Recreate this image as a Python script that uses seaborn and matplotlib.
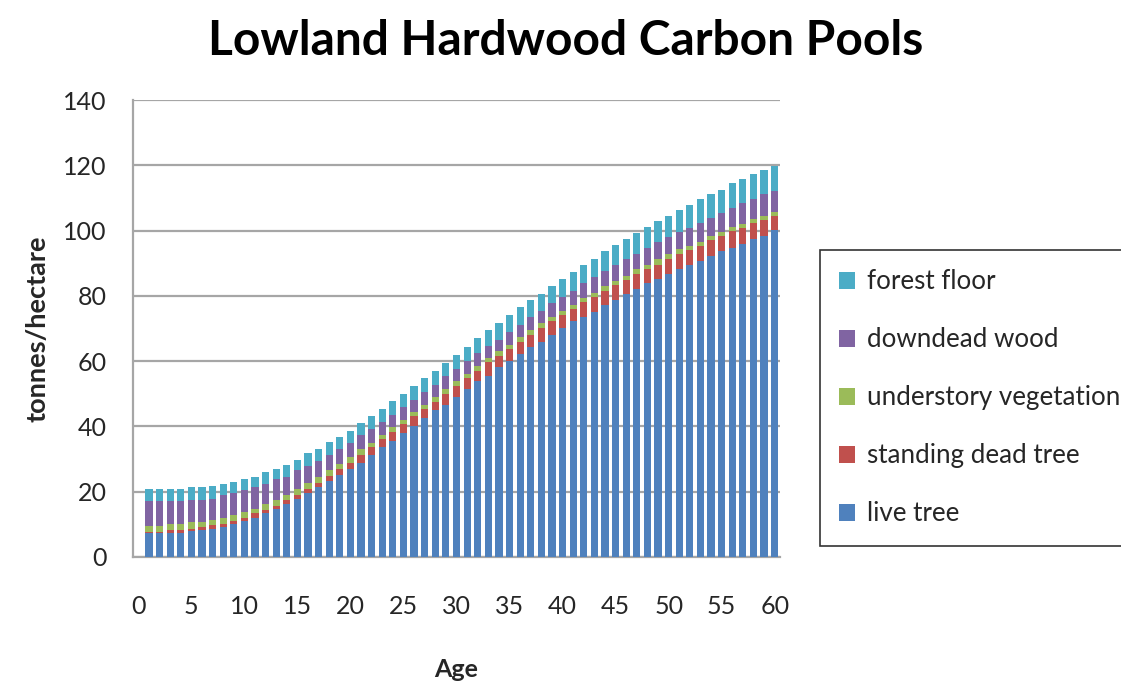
import numpy as np
import pandas as pd
import matplotlib
matplotlib.use("Agg")
import matplotlib.pyplot as plt
from matplotlib.patches import Patch
import seaborn as sns

# Stand age (years); age 0 is an empty category slot on the axis
ages = list(range(0, 61))

# Carbon pools, tonnes/hectare, for ages 1..60
live_tree = [
    7.3, 7.3, 7.3, 7.3, 7.9, 8.3, 8.7, 9.2, 10.1, 11.0,
    12.0, 13.5, 14.8, 16.2, 17.7, 19.5, 21.3, 23.3, 25.1, 26.9,
    28.9, 31.2, 33.6, 35.6, 38.0, 40.2, 42.6, 44.9, 46.6, 49.0,
    51.4, 53.8, 55.6, 58.2, 60.0, 62.3, 64.2, 66.0, 68.0, 70.3,
    72.2, 73.5, 75.2, 77.3, 78.8, 80.6, 82.1, 83.9, 85.1, 86.6,
    88.2, 89.5, 90.8, 92.3, 93.6, 94.6, 95.9, 97.4, 98.4, 100.2,
]
standing_dead_tree = [
    0.5, 0.5, 1.0, 1.0, 0.8, 0.8, 1.0, 0.9, 1.0, 1.1,
    1.4, 0.8, 0.9, 1.3, 1.3, 1.3, 1.3, 1.4, 1.9, 2.0,
    2.3, 2.5, 2.4, 2.8, 2.7, 2.9, 2.7, 2.7, 3.4, 3.5,
    3.3, 3.2, 4.0, 3.3, 3.8, 3.7, 3.9, 4.3, 4.2, 3.7,
    3.7, 4.5, 4.6, 4.3, 4.6, 4.3, 4.7, 4.3, 4.4, 4.7,
    4.7, 4.6, 4.5, 4.9, 4.8, 5.3, 4.8, 4.9, 4.9, 4.4,
]
understory_vegetation = [
    1.7, 1.7, 1.7, 1.7, 1.9, 1.5, 1.7, 1.8, 1.7, 1.7,
    1.3, 1.9, 1.8, 1.4, 1.8, 1.8, 1.8, 1.8, 1.5, 1.8,
    1.9, 1.3, 1.4, 1.4, 1.3, 1.3, 1.3, 1.3, 1.4, 1.3,
    1.4, 1.4, 1.3, 1.6, 1.2, 1.4, 1.3, 1.3, 1.3, 1.4,
    1.3, 1.3, 1.2, 1.3, 1.3, 1.3, 1.4, 1.3, 1.8, 1.5,
    1.4, 1.3, 1.3, 1.2, 1.3, 1.3, 1.3, 1.2, 1.3, 1.2,
]
downdead_wood = [
    7.7, 7.7, 7.2, 7.2, 6.9, 6.9, 6.4, 7.2, 6.7, 6.6,
    6.6, 6.1, 6.3, 5.7, 5.7, 5.3, 4.9, 4.7, 4.6, 4.3,
    4.4, 4.3, 4.1, 3.7, 3.8, 3.8, 4.1, 3.8, 3.9, 3.8,
    3.8, 4.0, 3.8, 3.5, 3.9, 3.8, 4.1, 3.8, 4.3, 4.2,
    4.3, 4.6, 4.7, 4.8, 4.8, 5.1, 4.7, 5.1, 5.3, 5.1,
    5.4, 5.4, 5.7, 5.6, 5.8, 5.7, 6.3, 6.1, 6.5, 6.3,
]
forest_floor = [
    3.7, 3.7, 3.7, 3.7, 3.9, 3.9, 4.0, 3.3, 3.6, 3.4,
    3.3, 3.7, 3.1, 3.7, 3.3, 3.9, 3.7, 3.9, 3.8, 3.7,
    3.6, 3.8, 3.8, 4.2, 4.2, 4.1, 4.1, 4.3, 4.1, 4.2,
    4.3, 4.6, 4.7, 5.1, 5.2, 5.3, 5.3, 5.1, 5.1, 5.6,
    5.7, 5.6, 5.6, 6.1, 6.1, 6.1, 6.5, 6.6, 6.4, 6.6,
    6.6, 7.1, 7.3, 7.2, 6.9, 7.6, 7.4, 7.7, 7.5, 7.8,
]

pool_names = ["live tree", "standing dead tree", "understory vegetation",
              "downdead wood", "forest floor"]
pool_values = [live_tree, standing_dead_tree, understory_vegetation,
               downdead_wood, forest_floor]
pool_colors = ["#4F81BD", "#C0504D", "#9BBB59", "#8064A2", "#4BACC6"]

# Cumulative tops of each stacked layer (age 0 has no carbon bar)
stack = np.cumsum(np.array(pool_values), axis=0)
stack = np.hstack([np.zeros((stack.shape[0], 1)), stack])
df = pd.DataFrame({"age": ages})
for name, top in zip(pool_names, stack):
    df[name] = top

sns.set_style("white")
plt.rcParams["font.family"] = ["Lato", "DejaVu Sans"]

fig = plt.figure(figsize=(11.21, 6.84), dpi=100)
ax = fig.add_axes([133 / 1121, 1 - 557 / 684, (780 - 133) / 1121, (557 - 100) / 684])

# Draw tallest cumulative layer first so lower layers paint over it
for name, color in reversed(list(zip(pool_names, pool_colors))):
    sns.barplot(data=df, x="age", y=name, order=ages, color=color,
                width=0.68, linewidth=0, saturation=1, ax=ax, zorder=3)

ax.set_xlim(-0.5, 60.5)
ax.set_ylim(0, 140)
ax.set_yticks(range(0, 141, 20))
ax.set_xticks(range(0, 61, 5))
ax.set_xticklabels([str(a) for a in range(0, 61, 5)])
ax.yaxis.grid(True, color="#A6A6A6", linewidth=1.6, zorder=0)
ax.set_axisbelow(True)
for side in ("top", "right"):
    ax.spines[side].set_visible(False)
for side in ("left", "bottom"):
    ax.spines[side].set_color("#A6A6A6")
    ax.spines[side].set_linewidth(1.6)
ax.tick_params(axis="y", length=0, pad=19, labelsize=18, labelcolor="#262626")
ax.tick_params(axis="x", length=0, pad=27, labelsize=18, labelcolor="#262626")

ax.set_xlabel("Age", fontsize=18, fontweight="bold", labelpad=29)
ax.set_ylabel("tonnes/hectare", fontsize=19.5, fontweight="bold", labelpad=10)

fig.text(0.505, 0.94, "Lowland Hardwood Carbon Pools", ha="center", va="center",
         fontsize=34.5, fontweight="bold", color="black")

handles = [Patch(facecolor=c, edgecolor="none", label=n)
           for n, c in zip(pool_names, pool_colors)][::-1]
leg = fig.legend(handles=handles, loc="upper left",
                 bbox_to_anchor=(820 / 1121, 1 - 250 / 684),
                 frameon=True, fancybox=False, edgecolor="black",
                 fontsize=18.7, handlelength=0.6, handleheight=0.6,
                 handletextpad=0.45, labelspacing=1.27, borderpad=0.75,
                 borderaxespad=0)
leg.get_frame().set_linewidth(1.2)
for t in leg.get_texts():
    t.set_color("#262626")

fig.savefig("out.png", dpi=100)
